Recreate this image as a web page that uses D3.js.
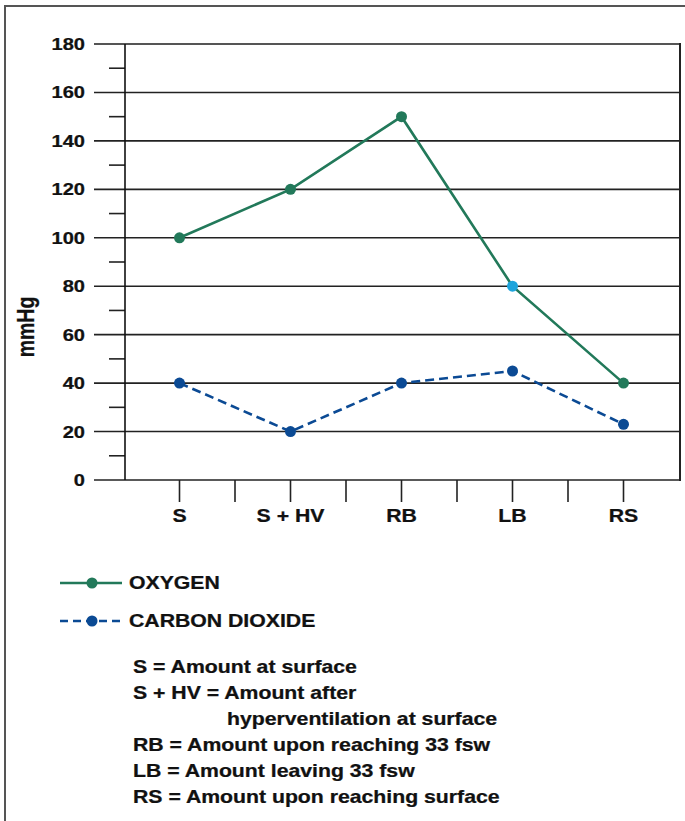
<!DOCTYPE html>
<html>
<head>
<meta charset="utf-8">
<script src="https://cdn.jsdelivr.net/npm/d3@7/dist/d3.min.js"></script>
<style>
  body { margin: 0; background: #fff; }
  svg text { font-family: "Liberation Sans", Arial, sans-serif; font-weight: bold; fill: #111; stroke: #111; stroke-width: 0.25px; }
</style>
</head>
<body>
<div id="chart"></div>
<script>
// data
var categories = ["S", "S + HV", "RB", "LB", "RS"];
var oxygen = [100, 120, 150, 80, 40];
var carbonDioxide = [40, 20, 40, 45, 23];
var yTicks = [0, 20, 40, 60, 80, 100, 120, 140, 160, 180];
var yMinorTicks = [10, 30, 50, 70, 90, 110, 130, 150, 170];
var legendLabels = ["OXYGEN", "CARBON DIOXIDE"];
var notes = [
    "S = Amount at surface",
    "S + HV = Amount after",
    "hyperventilation at surface",
    "RB = Amount upon reaching 33 fsw",
    "LB = Amount leaving 33 fsw",
    "RS = Amount upon reaching surface"
];

var green = "#22795a", blue = "#0b4a94", lightBlue = "#1ea4dc";
var stretch = 1.18; // the original lettering is a bit wider than Arial

var svg = d3.select("#chart")
    .append("svg")
        .attr("width", 685)
        .attr("height", 821);

// outer frame (runs off the right and bottom of the picture)
svg.append("rect")
    .attr("x", 5).attr("y", 6)
    .attr("width", 720).attr("height", 900)
    .style("fill", "none")
    .style("stroke", "#555")
    .style("stroke-width", 2);

// Set the ranges
var x = d3.scaleBand().domain(categories).range([124, 679]).padding(0);
var y = d3.scaleLinear().domain([0, 180]).range([480, 44]);
var left = 125, right = 680, tickStart = 94;

function cx(d, i) { return x(categories[i]) + x.bandwidth() / 2; }

function label(g, px, py, txt, size, anchor, rot) {
    var t = "translate(" + px + "," + py + ") scale(" + stretch + ",1)";
    if (rot) t += " rotate(" + rot + ")";
    return g.append("text")
        .attr("transform", t)
        .style("font-size", size + "px")
        .style("text-anchor", anchor)
        .text(txt);
}

// grid lines + major ticks
svg.selectAll(".grid")
    .data(yTicks)
    .enter().append("line")
    .attr("class", "grid")
    .attr("x1", tickStart).attr("x2", right)
    .attr("y1", function(d) { return y(d); })
    .attr("y2", function(d) { return y(d); })
    .style("stroke", function(d) { return d == 180 ? "#555" : "#222"; })
    .style("stroke-width", function(d) { return d == 180 ? 2 : 1.6; });

// minor ticks
svg.selectAll(".minor")
    .data(yMinorTicks)
    .enter().append("line")
    .attr("x1", 109).attr("x2", left)
    .attr("y1", function(d) { return y(d); })
    .attr("y2", function(d) { return y(d); })
    .style("stroke", "#222")
    .style("stroke-width", 1.6);

// y axis line and right edge
svg.append("line")
    .attr("x1", left).attr("x2", left).attr("y1", y(180)).attr("y2", y(0))
    .style("stroke", "#111").style("stroke-width", 1.6);
svg.append("line")
    .attr("x1", right).attr("x2", right).attr("y1", y(180) - 1).attr("y2", y(0) + 1)
    .style("stroke", "#222").style("stroke-width", 2);

// y tick labels
yTicks.forEach(function(d) {
    label(svg, 85, y(d) + 6, d, 17, "end");
});

// y axis title
label(svg, 34, 327, "mmHg", 19.5, "middle", -90);

// x ticks: category centres and band edges
var xTickPos = categories.map(function(c, i) { return cx(c, i); })
    .concat(categories.slice(1).map(function(c) { return x(c); }));
svg.selectAll(".xtick")
    .data(xTickPos)
    .enter().append("line")
    .attr("x1", function(d) { return d; })
    .attr("x2", function(d) { return d; })
    .attr("y1", y(0)).attr("y2", y(0) + 22)
    .style("stroke", "#222")
    .style("stroke-width", 1.6);

categories.forEach(function(c, i) {
    label(svg, cx(c, i), 522, c, 18, "middle");
});

// Define the line
var line_value = d3.line()
    .x(function(d, i) { return cx(d, i); })
    .y(function(d) { return y(d); });

svg.append("path")
    .attr("d", line_value(carbonDioxide))
    .style("fill", "none")
    .style("stroke", blue)
    .style("stroke-width", 2.6)
    .style("stroke-dasharray", "9,5");

svg.append("path")
    .attr("d", line_value(oxygen))
    .style("fill", "none")
    .style("stroke", green)
    .style("stroke-width", 2.6);

svg.selectAll(".co2")
    .data(carbonDioxide)
    .enter().append("circle")
    .attr("cx", cx)
    .attr("cy", function(d) { return y(d); })
    .attr("r", 5.5)
    .style("fill", blue);

svg.selectAll(".o2")
    .data(oxygen)
    .enter().append("circle")
    .attr("cx", cx)
    .attr("cy", function(d) { return y(d); })
    .attr("r", 5.5)
    .style("fill", function(d, i) { return categories[i] == "LB" ? lightBlue : green; });

// legend
var legendY = [583, 621];
legendLabels.forEach(function(name, i) {
    var col = i == 0 ? green : blue;
    svg.append("line")
        .attr("x1", 60).attr("x2", 122)
        .attr("y1", legendY[i]).attr("y2", legendY[i])
        .style("stroke", col)
        .style("stroke-width", 2.6)
        .style("stroke-dasharray", i == 0 ? null : "8,5");
    svg.append("circle")
        .attr("cx", 92).attr("cy", legendY[i]).attr("r", 5.5)
        .style("fill", col);
    label(svg, 129, legendY[i] + 6, name, 18, "start");
});

// key to the abbreviations
notes.forEach(function(n, i) {
    label(svg, i == 2 ? 227 : 133, 673 + i * 25.9, n, 18, "start");
});
</script>
</body>
</html>
